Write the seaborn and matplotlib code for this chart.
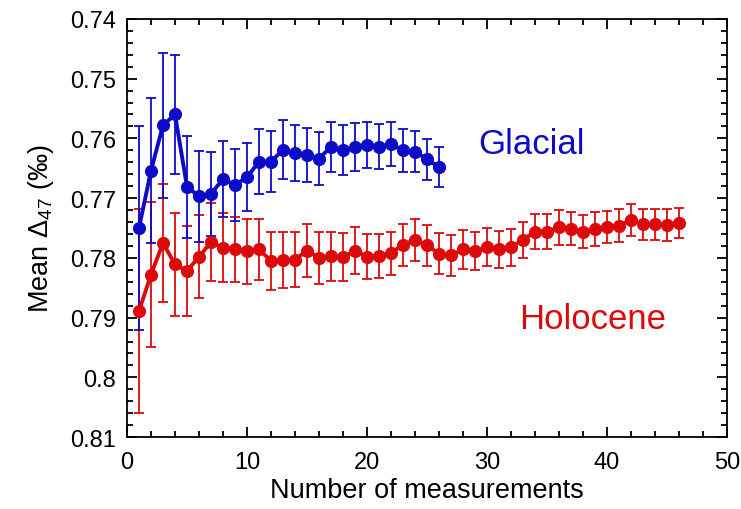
import numpy as np
import matplotlib
matplotlib.use("Agg")
import matplotlib.pyplot as plt
import seaborn as sns
import pandas as pd
from matplotlib.ticker import MultipleLocator, FuncFormatter

# values
glacial_mean = [0.7750, 0.7654, 0.7578, 0.7560, 0.7681, 0.7697, 0.7693, 0.7668,
                0.7678, 0.7665, 0.7639, 0.7639, 0.7619, 0.7625, 0.7628, 0.7634,
                0.7614, 0.7620, 0.7614, 0.7611, 0.7614, 0.7610, 0.7620, 0.7622,
                0.7635, 0.7648]
glacial_err = [0.0170, 0.0121, 0.0121, 0.0099, 0.0085, 0.0076, 0.0070, 0.0064,
               0.0060, 0.0057, 0.0054, 0.0051, 0.0049, 0.0047, 0.0045, 0.0044,
               0.0042, 0.0042, 0.0040, 0.0039, 0.0038, 0.0037, 0.0036, 0.0035,
               0.0034, 0.0033]
holocene_mean = [0.7889, 0.7828, 0.7775, 0.7811, 0.7822, 0.7798, 0.7774, 0.7783,
                 0.7786, 0.7789, 0.7786, 0.7805, 0.7804, 0.7803, 0.7788, 0.7800,
                 0.7797, 0.7799, 0.7788, 0.7798, 0.7797, 0.7792, 0.7778, 0.7770,
                 0.7779, 0.7793, 0.7796, 0.7786, 0.7788, 0.7782, 0.7786, 0.7782,
                 0.7770, 0.7756, 0.7756, 0.7749, 0.7751, 0.7756, 0.7752, 0.7748,
                 0.7746, 0.7737, 0.7744, 0.7744, 0.7745, 0.7741]
holocene_err = [0.0170, 0.0121, 0.0099, 0.0086, 0.0076, 0.0069, 0.0065, 0.0058,
                0.0054, 0.0054, 0.0051, 0.0049, 0.0047, 0.0046, 0.0044, 0.0043,
                0.0041, 0.0040, 0.0039, 0.0038, 0.0037, 0.0036, 0.0035, 0.0035,
                0.0034, 0.0034, 0.0034, 0.0033, 0.0032, 0.0032, 0.0031, 0.0031,
                0.0030, 0.0029, 0.0029, 0.0029, 0.0028, 0.0028, 0.0028, 0.0027,
                0.0027, 0.0027, 0.0026, 0.0026, 0.0026, 0.0025]

BLUE = "#0c0cc8"
RED = "#dc0a0a"

sns.set_style("ticks", {"axes.edgecolor": "black", "text.color": "black",
                        "xtick.color": "black", "ytick.color": "black",
                        "axes.labelcolor": "black"})
plt.rcParams["font.family"] = ["Liberation Sans", "DejaVu Sans"]
plt.rcParams["mathtext.fontset"] = "custom"
plt.rcParams["mathtext.rm"] = "Liberation Sans"
plt.rcParams["mathtext.it"] = "Liberation Sans"

glacial = pd.DataFrame({"n": np.arange(1, len(glacial_mean) + 1),
                        "mean": glacial_mean, "err": glacial_err})
holocene = pd.DataFrame({"n": np.arange(1, len(holocene_mean) + 1),
                         "mean": holocene_mean, "err": holocene_err})

fig = plt.figure(figsize=(7.41, 5.10), dpi=100)
ax = fig.add_axes([0.1714, 0.141, 0.8096, 0.820])

for df, col in [(holocene, RED), (glacial, BLUE)]:
    ax.errorbar(df["n"], df["mean"], yerr=df["err"], fmt="none",
                ecolor=col, elinewidth=1.3, capsize=3.8, capthick=1.3, zorder=2)
    sns.lineplot(data=df, x="n", y="mean", ax=ax, color=col, linewidth=2.8,
                 marker="o", markersize=9.5, markeredgewidth=0, zorder=3)

ax.set_xlim(0, 50)
ax.set_ylim(0.81, 0.74)
ax.xaxis.set_major_locator(MultipleLocator(10))
ax.xaxis.set_minor_locator(MultipleLocator(2))
ax.yaxis.set_major_locator(MultipleLocator(0.01))
ax.yaxis.set_minor_locator(MultipleLocator(0.002))
ax.yaxis.set_major_formatter(FuncFormatter(lambda v, p: f"{v:g}"))
ax.tick_params(which="both", direction="in", top=True, right=True, width=1.3,
               color="black", labelcolor="black")
ax.tick_params(axis="x", which="major", length=7, labelsize=17, pad=10)
ax.tick_params(axis="y", which="major", length=7, labelsize=17, pad=8)
ax.tick_params(which="minor", length=4)
for s in ax.spines.values():
    s.set_linewidth(1.3)
    s.set_color("black")

ax.set_xlabel("Number of measurements", fontsize=19.5, labelpad=3)
ax.set_ylabel("Mean $\\Delta_{47}$ (‰)", fontsize=19.5, labelpad=10)

ax.text(33.7, 0.7609, "Glacial", color=BLUE, fontsize=25, ha="center", va="center")
ax.text(38.8, 0.7902, "Holocene", color=RED, fontsize=25, ha="center", va="center")

fig.savefig("out.png", dpi=100)
